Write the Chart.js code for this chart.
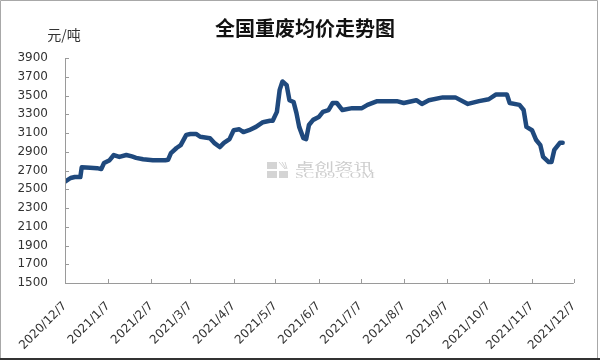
<!DOCTYPE html>
<html>
<head>
<meta charset="utf-8">
<script src="https://cdn.jsdelivr.net/npm/chart.js@4.4.1/dist/chart.umd.min.js"></script>
<style>
  html, body { margin: 0; padding: 0; background: #fff; }
  #wrap { width: 600px; height: 361px; }
</style>
</head>
<body>
<div id="wrap"><canvas id="c" width="600" height="361"></canvas></div>
<script>
// ---- data ----
const chartTitle = "全国重废均价走势图";
const unitLabel = "元/吨";
const tickLabels = ["2020/12/7","2021/1/7","2021/2/7","2021/3/7","2021/4/7","2021/5/7","2021/6/7","2021/7/7","2021/8/7","2021/9/7","2021/10/7","2021/11/7","2021/12/7"];
const yTicks = [1500,1700,1900,2100,2300,2500,2700,2900,3100,3300,3500,3700,3900];
const dates = ["2020-12-07","2020-12-11","2020-12-14","2020-12-18","2020-12-19","2020-12-25","2020-12-30","2021-01-02","2021-01-04","2021-01-08","2021-01-11","2021-01-15","2021-01-20","2021-01-24","2021-01-27","2021-02-01","2021-02-08","2021-02-17","2021-02-19","2021-02-21","2021-02-25","2021-02-28","2021-03-04","2021-03-07","2021-03-11","2021-03-14","2021-03-21","2021-03-24","2021-03-28","2021-03-31","2021-04-04","2021-04-07","2021-04-11","2021-04-14","2021-04-18","2021-04-23","2021-04-28","2021-05-03","2021-05-05","2021-05-08","2021-05-10","2021-05-12","2021-05-15","2021-05-17","2021-05-20","2021-05-22","2021-05-24","2021-05-27","2021-05-29","2021-05-31","2021-06-03","2021-06-07","2021-06-10","2021-06-14","2021-06-17","2021-06-20","2021-06-24","2021-07-01","2021-07-08","2021-07-12","2021-07-19","2021-08-02","2021-08-07","2021-08-16","2021-08-20","2021-08-25","2021-09-04","2021-09-13","2021-09-22","2021-09-30","2021-10-07","2021-10-12","2021-10-20","2021-10-22","2021-10-29","2021-11-01","2021-11-03","2021-11-07","2021-11-10","2021-11-13","2021-11-15","2021-11-19","2021-11-21","2021-11-23","2021-11-27","2021-11-29"];
const prices = [2580,2620,2630,2630,2735,2730,2725,2715,2780,2810,2865,2845,2865,2850,2835,2820,2810,2810,2815,2885,2940,2970,3080,3090,3090,3060,3045,2995,2950,2995,3035,3130,3140,3110,3130,3165,3215,3230,3230,3325,3560,3650,3610,3450,3430,3315,3165,3045,3035,3185,3240,3270,3325,3345,3420,3420,3345,3365,3365,3400,3440,3440,3420,3450,3410,3450,3480,3480,3410,3440,3460,3510,3510,3420,3400,3345,3165,3130,3025,2970,2845,2790,2790,2920,2995,2995];

// ---- helpers ----
function dayOf(str) {
  const p = str.split(/[-\/]/).map(Number);
  return Date.UTC(p[0], p[1]-1, p[2]);
}
const base = dayOf(tickLabels[0]);
const toDay = s => (dayOf(s) - base) / 86400000;
const tickDays = tickLabels.map(toDay);
const points = dates.map((d, i) => ({ x: toDay(d), y: prices[i] }));

const axisColor = '#9a9a9a';
const textColor = '#333333';

const decorPlugin = {
  id: 'decor',
  beforeDatasetsDraw(chart) {
    const ctx = chart.ctx;
    // watermark
    ctx.save();
    ctx.fillStyle = '#d4d4d4';
    const lx = 267, ly = 162;
    ctx.fillRect(lx, ly, 10, 7);
    ctx.fillRect(lx, ly + 9, 10, 7);
    ctx.fillRect(lx + 12, ly + 9, 9, 7);
    ctx.strokeStyle = '#d4d4d4';
    ctx.lineWidth = 1;
    for (let k = 0; k < 3; k++) {
      ctx.beginPath();
      ctx.moveTo(lx + 12 + k * 3, ly);
      ctx.lineTo(lx + 18 + k * 1, ly + 7);
      ctx.stroke();
    }
    ctx.fillStyle = '#cdcdcd';
    ctx.textBaseline = 'middle';
    ctx.textAlign = 'left';
    ctx.font = '11px "Noto Sans CJK SC"';
    let w = ctx.measureText('卓创资讯').width;
    ctx.save();
    ctx.translate(295, 167);
    ctx.scale(78 / w, 1);
    ctx.fillText('卓创资讯', 0, 0);
    ctx.restore();
    ctx.font = '8px "Liberation Serif"';
    w = ctx.measureText('SCI99.COM').width;
    ctx.save();
    ctx.translate(295, 176);
    ctx.scale(80 / w, 1);
    ctx.fillText('SCI99.COM', 0, 0);
    ctx.restore();
    ctx.restore();
  },
  afterDraw(chart) {
    const ctx = chart.ctx;
    const xs = chart.scales.x, ys = chart.scales.y;
    const a = chart.chartArea;
    ctx.save();
    ctx.strokeStyle = axisColor;
    ctx.lineWidth = 1;
    ctx.beginPath();
    ctx.moveTo(a.left + 0.5, a.top);
    ctx.lineTo(a.left + 0.5, a.bottom + 0.5);
    ctx.lineTo(a.right, a.bottom + 0.5);
    ctx.stroke();
    ys.ticks.forEach(t => {
      const y = Math.round(ys.getPixelForValue(t.value)) + 0.5;
      ctx.beginPath();
      ctx.moveTo(a.left, y);
      ctx.lineTo(a.left + 4, y);
      ctx.stroke();
    });
    xs.ticks.forEach(t => {
      const x = Math.round(xs.getPixelForValue(t.value)) + 0.5;
      ctx.beginPath();
      ctx.moveTo(x, a.bottom);
      ctx.lineTo(x, a.bottom - 4);
      ctx.stroke();
    });
    // title and unit
    ctx.fillStyle = '#111';
    ctx.textAlign = 'center';
    ctx.textBaseline = 'middle';
    ctx.font = 'bold 20px "Noto Sans CJK SC"';
    ctx.fillText(chartTitle, 305, 28);
    ctx.fillStyle = textColor;
    ctx.font = '14px "Noto Sans CJK SC"';
    ctx.fillText(unitLabel, 64, 35);
    // frame
    ctx.strokeStyle = '#a8a8a8';
    ctx.beginPath();
    ctx.moveTo(0.5, 359);
    ctx.lineTo(0.5, 0.5);
    ctx.lineTo(597.5, 0.5);
    ctx.lineTo(597.5, 359);
    ctx.stroke();
    ctx.strokeStyle = '#333';
    ctx.lineWidth = 2;
    ctx.beginPath();
    ctx.moveTo(0, 359);
    ctx.lineTo(600, 359);
    ctx.stroke();
    ctx.restore();
  }
};

new Chart(document.getElementById('c'), {
  type: 'line',
  data: {
    datasets: [{
      data: points,
      borderColor: '#1F497D',
      borderWidth: 4.5,
      pointRadius: 0,
      tension: 0,
      borderJoinStyle: 'round',
      borderCapStyle: 'round',
      fill: false
    }]
  },
  options: {
    responsive: false,
    animation: false,
    devicePixelRatio: 1,
    layout: { padding: { left: 0, right: 17, top: 58, bottom: 0 } },
    plugins: { legend: { display: false }, title: { display: false }, tooltip: { enabled: false } },
    scales: {
      x: {
        type: 'linear',
        min: tickDays[0],
        max: tickDays[tickDays.length - 1],
        grid: { display: false, drawTicks: false, tickLength: 0 },
        border: { display: false },
        afterBuildTicks: s => { s.ticks = tickDays.map(v => ({ value: v })); },
        afterFit: s => { s.height = 78; },
        ticks: {
          autoSkip: false,
          maxRotation: 45,
          minRotation: 45,
          padding: 16,
          color: textColor,
          font: { family: '"DejaVu Sans"', size: 12 },
          callback: (v) => { const i = tickDays.indexOf(v); return i >= 0 ? tickLabels[i] : ''; }
        }
      },
      y: {
        min: yTicks[0],
        max: yTicks[yTicks.length - 1],
        grid: { display: false, drawTicks: false, tickLength: 0 },
        border: { display: false },
        afterBuildTicks: s => { s.ticks = yTicks.map(v => ({ value: v })); },
        afterFit: s => { s.width = 65; },
        ticks: {
          padding: 17,
          color: textColor,
          font: { family: '"DejaVu Sans"', size: 12 },
          callback: v => String(v)
        }
      }
    }
  },
  plugins: [decorPlugin]
});
</script>
</body>
</html>
